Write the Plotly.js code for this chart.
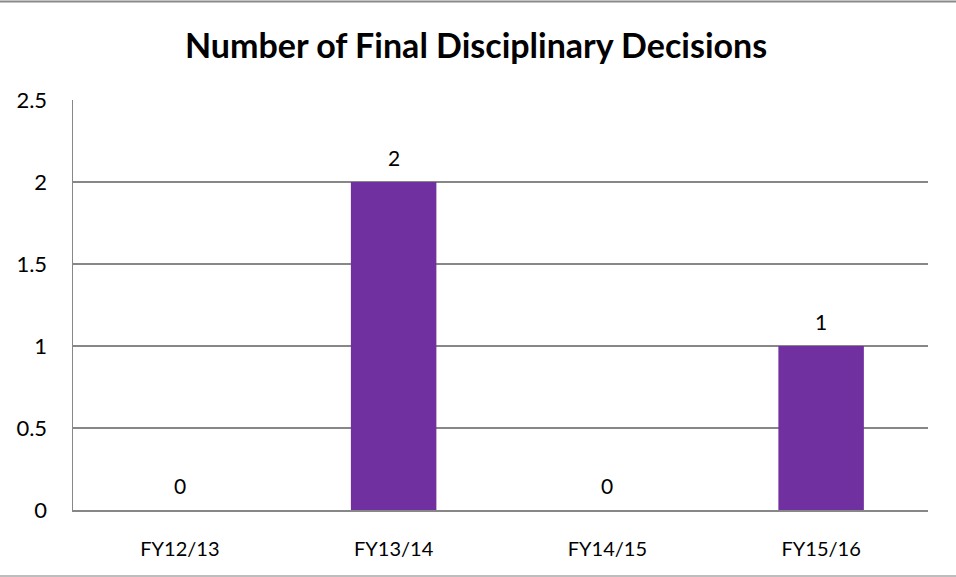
<!DOCTYPE html>
<html>
<head>
<meta charset="utf-8">
<script src="https://cdn.plot.ly/plotly-3.0.1.min.js"></script>
<style>html,body{margin:0;padding:0;background:#fff;} #chart{width:956px;height:577px;}</style>
</head>
<body>
<div id="chart"></div>
<script>
const categories = ["FY12/13", "FY13/14", "FY14/15", "FY15/16"];
const decisions = [0, 2, 0, 1];
const yTicks = [0, 0.5, 1, 1.5, 2, 2.5];
const yTickLabels = ["0", "0.5", "1", "1.5", "2", "2.5"];
const chartTitle = "Number of Final Disciplinary Decisions";

const FONT = "Lato, 'Open Sans', sans-serif";
const GRID = "#878787";

const trace = {
  type: "bar",
  x: categories,
  y: decisions,
  marker: {color: "#7030A0"},
  width: 0.4,
  hoverinfo: "x+y"
};

const annotations = categories.map((c, i) => ({
  x: c, y: decisions[i], xref: "x", yref: "y",
  text: String(decisions[i]), showarrow: false,
  yshift: 25, font: {family: FONT, size: 21, color: "#000"}
}));

const layout = {
  width: 956, height: 577,
  margin: {l: 73, r: 28, t: 100, b: 67, pad: 0},
  paper_bgcolor: "#fff", plot_bgcolor: "#fff",
  showlegend: false,
  title: {
    text: "<b>" + chartTitle + "</b>",
    font: {family: FONT, size: 34, color: "#000"},
    xref: "container", x: 0.498, xanchor: "center",
    yref: "container", y: 1 - 46/577, yanchor: "middle"
  },
  xaxis: {
    type: "category",
    showgrid: false, zeroline: false,
    showline: true, linecolor: GRID, linewidth: 1.5,
    ticks: "", ticklabelstandoff: 20,
    tickfont: {family: FONT, size: 20, color: "#000"}
  },
  yaxis: {
    range: [0, 2.5],
    tickvals: yTicks, ticktext: yTickLabels,
    showgrid: true, gridcolor: GRID, gridwidth: 1.5,
    zeroline: false,
    showline: true, linecolor: GRID, linewidth: 1.5,
    ticks: "", ticklabelstandoff: 20,
    tickfont: {family: FONT, size: 22, color: "#000"}
  },
  annotations: annotations,
  shapes: [
    {type: "line", xref: "paper", yref: "paper", x0: -73/855, x1: 883/855,
     y0: (510-1.5)/410, y1: (510-1.5)/410, line: {color: "#8a8a8a", width: 2}},
    {type: "line", xref: "paper", yref: "paper", x0: -73/855, x1: 883/855,
     y0: (510-576)/410, y1: (510-576)/410, line: {color: "#bdbdbd", width: 2}}
  ]
};

Plotly.newPlot("chart", [trace], layout, {displayModeBar: false, staticPlot: true});
</script>
</body>
</html>
